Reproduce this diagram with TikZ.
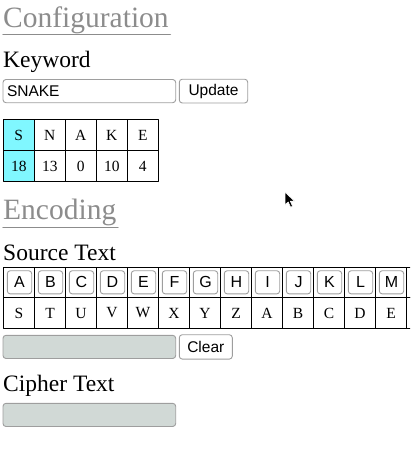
\documentclass[tikz,border=0pt]{standalone}
\usepackage{fontspec}
\setmainfont{Liberation Serif}
\setsansfont{Liberation Sans}
\usepackage[dvipsnames]{xcolor}
\usepackage{pgf,tikz}
\usetikzlibrary{arrows.meta}
\usetikzlibrary{positioning}
\definecolor{headgray}{rgb}{0.55,0.55,0.55}
\definecolor{bordergray}{rgb}{0.62,0.62,0.62}
\definecolor{inputgray}{rgb}{0.82,0.85,0.84}
\definecolor{aquacyan}{rgb}{0.5,0.97,1}

\begin{document}
\begin{tikzpicture}[line cap=round,line join=round, x=1pt,y=-1pt,
	headline/.style={anchor=base west,inner sep=0pt,headgray,font=\fontsize{29.5}{30}\selectfont},
	fieldtitle/.style={anchor=base west,inner sep=0pt,font=\fontsize{23.5}{24}\selectfont},
	inputbox/.style={draw=bordergray,fill=inputgray,rounded corners=3pt,line width=0.9pt,anchor=north west,
		minimum width=172.7pt,minimum height=23.2pt,inner sep=0pt,outer sep=0pt},
	pushbutton/.style={draw=bordergray,fill=white,rounded corners=3pt,line width=0.9pt,
		minimum height=23.8pt,inner sep=0pt,outer sep=0pt,font=\sffamily\fontsize{15.5}{16}\selectfont},
	cell/.style={draw=black,line width=1.1pt,minimum width=31pt,inner sep=0pt,outer sep=0pt,
		font=\fontsize{15.5}{16}\selectfont},
	keybutton/.style={pushbutton,minimum width=24.4pt,minimum height=23.2pt,font=\sffamily\fontsize{16}{16}\selectfont}]
						\useasboundingbox (0,0) rectangle (410,452);
						\clip (0,0) rectangle (410,452);
						% Konfiguration
						\node[headline] (config) at (3,27.3) {Configuration};
						\draw[headgray,line width=1.2pt] ([yshift=-7.5pt]config.base west) -- ([xshift=1.5pt,yshift=-7.5pt]config.base east);
						\node[fieldtitle] (keyword) at (3,67.7) {Keyword};
						\node[inputbox,fill=white,minimum width=0pt,text width=164.7pt,inner xsep=4pt,align=left,
							font=\sffamily\fontsize{15.5}{16}\selectfont] (keyin) at (3,79.5) {SNAKE};
						\node[pushbutton,minimum width=68.4pt,right=3.6pt of keyin] (update) {Update};
						\foreach \letter/\num/\farbe [count=\i from 0] in {S/18/aquacyan,N/13/white,A/0/white,K/10/white,E/4/white}
						{
						\node[cell,fill=\farbe,minimum height=31.4pt] (key\i) at ({18.8+31*\i},135) {\letter};
						\node[cell,fill=\farbe,minimum height=30.6pt,below=0pt of key\i] (shift\i) {\num};
						}
						% Kodierung
						\node[headline] (encoding) at (3,219.3) {Encoding};
						\draw[headgray,line width=1.2pt] ([yshift=-8.5pt]encoding.base west) -- ([xshift=1.5pt,yshift=-8.5pt]encoding.base east);
						\node[fieldtitle] (source) at (3,260) {Source Text};
						\foreach \plain/\coded [count=\i from 0] in {A/S,B/T,C/U,D/V,E/W,F/X,G/Y,H/Z,I/A,J/B,K/C,L/D,M/E}
						{
						\node[cell,minimum height=30pt] (src\i) at ({19+31*\i},282.3) {};
						\node[keybutton] (btn\i) at ([xshift=0.5pt]src\i.center) {\plain};
						\node[cell,minimum height=31.4pt,below=0pt of src\i] (enc\i) {\coded};
						}
						% angeschnittene Spalte am rechten Rand
						\node[cell,minimum height=30pt] (src13) at ({19+31*13},282.3) {};
						\node[cell,minimum height=31.4pt,below=0pt of src13] (enc13) {};
						\node[inputbox] (srcin) at (3,335.3) {};
						\node[pushbutton,minimum width=53pt,minimum height=24.4pt,right=3.6pt of srcin] (clear) {Clear};
						\node[fieldtitle] (cipher) at (3,391.7) {Cipher Text};
						\node[inputbox] (cipherin) at (3,403.3) {};
						% Mauszeiger
						\fill[black,draw=white,line width=0.6pt] (285,192) -- (285,205) -- (288.2,202) -- (290.6,207.2)
							-- (292.6,206.3) -- (290.3,201.2) -- (294.5,201.2) -- cycle;
					\end{tikzpicture}
\end{document}
